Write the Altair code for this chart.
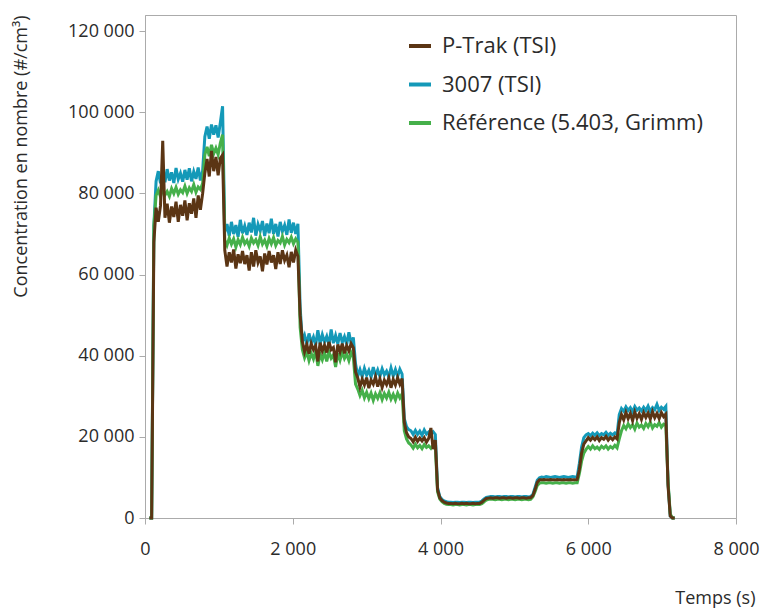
import altair as alt
import pandas as pd

# sampling times (s)
TIME_S = list(range(60, 7171, 30))

SERIES = ["P-Trak (TSI)", "3007 (TSI)", "Référence (5.403, Grimm)"]
COLORS = ["#5b3514", "#1499b8", "#45b04a"]

# values in thousands of particles / cm3
PTRAK = (
    [0, 0, 68]
    + [76.5, 73.0, 77.0, 93.0, 74.0, 77.5, 72.8, 76.8, 74.2, 78.0, 73.0, 77.2, 74.5, 78.3, 73.4, 77.6, 75.0, 78.8, 74.0, 79.5, 76.0, 80.0]
    + [85.0, 88.5, 84.2, 90.5, 85.5, 89.0, 84.5, 88.7, 89.5]
    + [66.0, 62.0, 65.5, 63.0, 66.2, 61.5, 65.0, 62.8, 65.8, 62.6,
       64.8, 61.0, 65.5, 62.0, 66.0, 63.0, 64.5, 60.8, 65.2, 62.5,
       65.8, 63.0, 64.8, 61.4, 65.5, 62.6, 66.0, 63.5, 64.8, 61.8,
       65.6, 63.0, 66.0, 64.5, 50.0]
    + [43.5, 41.0, 42.8, 40.5, 43.0, 41.5, 42.5, 38.6, 43.2, 41.2,
       42.6, 40.8, 43.4, 41.5, 42.0, 38.4, 42.8, 41.0, 43.0, 40.6,
       42.5, 41.2, 43.0, 42.0, 36.0]
    + [34.5, 32.3, 34.2, 32.8, 34.6, 32.0, 34.0, 33.0, 34.8, 32.4,
       34.3, 32.2, 34.0, 32.9, 34.5, 32.1, 34.2, 32.8, 34.6, 33.0,
       34.4, 23.5, 21.0, 20.0]
    + [19.6, 18.8, 19.9, 18.9, 19.7, 19.0, 19.8, 18.7, 19.6, 22.2, 17.0, 19.2]
    + [7.0, 5.0, 4.3, 3.9, 3.7, 3.6,
       3.6, 3.5, 3.6, 3.5, 3.5, 3.6, 3.5, 3.6, 3.5, 3.5, 3.6, 3.5, 3.6, 3.6]
    + [3.9, 4.4, 4.8, 4.9,
       5.0, 4.9, 5.0, 5.0, 4.9, 5.0, 5.0, 4.9, 5.0, 5.0, 4.9, 5.0, 5.0, 4.9, 5.0, 5.0, 4.9, 5.0, 5.0]
    + [5.5, 7.0, 8.8, 9.4,
       9.4, 9.5, 9.4, 9.4, 9.5, 9.4, 9.4, 9.5, 9.4, 9.4, 9.5, 9.4, 9.4, 9.5, 9.4, 9.4, 9.5]
    + [12.0, 16.0, 18.2, 19.0,
       19.8, 19.2, 19.9, 19.3, 20.0, 19.1, 19.8, 19.4, 20.1, 19.2, 19.9, 19.3, 20.0, 19.5]
    + [23.5,
       25.5, 24.2, 26.0, 24.5, 25.8, 24.0, 26.1, 24.6, 25.7, 24.3, 26.0, 24.8, 25.9, 24.4, 26.2, 24.7, 25.8, 24.5, 26.0, 25.0, 25.6]
    + [8.0, 0.5, 0, 0]
)

CPC3007 = (
    [0, 0, 72]
    + [83.0, 85.5, 82.5, 84.8, 82.8, 86.0, 83.2, 85.2, 82.6, 86.3, 83.5, 85.0, 82.9, 85.8, 83.4, 86.2, 83.0, 85.4, 83.6, 86.4, 83.2, 85.6]
    + [94.0, 96.5, 93.5, 97.0, 94.5, 96.8, 93.8, 97.5, 101.5]
    + [70.5, 72.5, 69.5, 73.0, 70.0, 72.2, 69.3, 73.5, 70.2, 72.0,
       69.8, 72.8, 70.4, 74.0, 69.6, 72.4, 70.8, 73.2, 69.5, 72.6,
       70.2, 73.8, 70.0, 72.5, 69.4, 73.0, 70.6, 72.2, 69.8, 73.6,
       70.3, 72.8, 70.0, 72.5, 52.0]
    + [43.5, 45.0, 42.8, 45.5, 43.2, 44.6, 42.6, 46.3, 43.0, 45.2,
       43.4, 44.8, 42.7, 46.5, 43.1, 45.0, 42.9, 45.6, 43.3, 44.7,
       42.8, 45.8, 43.0, 44.5, 38.0]
    + [35.0, 36.6, 34.8, 36.9, 35.2, 36.4, 34.7, 37.2, 35.1, 36.5,
       34.9, 36.8, 35.3, 36.2, 34.8, 37.0, 35.0, 36.6, 34.9, 36.7,
       35.5, 24.5, 22.5, 21.8]
    + [21.5, 20.6, 21.6, 20.6, 21.4, 20.4, 21.7, 20.7, 21.2, 20.8, 21.3, 20.6]
    + [7.5, 5.3, 4.6, 4.2, 4.0, 3.9,
       3.9, 3.8, 3.9, 3.9, 3.8, 3.9, 3.9, 3.8, 3.9, 3.9, 3.8, 3.9, 3.9, 3.9]
    + [4.2, 4.7, 5.1, 5.2,
       5.3, 5.3, 5.2, 5.3, 5.3, 5.2, 5.3, 5.3, 5.2, 5.3, 5.3, 5.2, 5.3, 5.3, 5.2, 5.3, 5.3, 5.2, 5.3]
    + [5.8, 7.5, 9.3, 9.9,
       10.1, 10.0, 10.2, 10.1, 10.0, 10.1, 10.2, 10.1, 10.0, 10.1, 10.2, 10.1, 10.0, 10.1, 10.2, 10.1, 10.1]
    + [13.5, 17.5, 19.8, 20.5,
       20.8, 20.3, 20.9, 20.4, 21.0, 20.3, 20.8, 20.5, 21.1, 20.4, 20.9, 20.5, 21.0, 20.6]
    + [25.5,
       27.0, 26.3, 27.4, 26.5, 27.2, 26.2, 27.5, 26.6, 27.1, 26.4, 27.3, 26.5, 27.6, 26.3, 27.2, 26.7, 28.0, 26.5, 27.3, 26.8, 27.5]
    + [8.5, 0.5, 0, 0]
)

REFERENCE = (
    [0, 0, 72]
    + [79.5, 80.8, 79.2, 81.0, 79.6, 80.5, 79.3, 81.2, 80.0, 81.5, 79.8, 80.9, 80.2, 81.8, 80.0, 81.4, 80.5, 82.2, 80.3, 81.6, 81.0, 82.5]
    + [89.5, 91.5, 89.2, 92.0, 89.8, 91.2, 89.6, 92.5, 94.5]
    + [68.5, 67.2, 69.0, 67.5, 68.8, 66.8, 68.6, 67.4, 69.2, 67.6,
       68.4, 67.0, 69.0, 67.8, 68.6, 67.2, 69.3, 67.5, 68.5, 67.0,
       68.9, 67.6, 69.1, 67.2, 68.4, 67.8, 69.4, 67.3, 68.7, 67.9,
       69.2, 67.6, 68.8, 68.0, 47.0]
    + [41.5, 39.5, 41.0, 38.8, 40.6, 39.2, 41.2, 37.5, 40.4, 39.0,
       40.8, 38.6, 41.0, 39.4, 40.2, 37.2, 40.6, 38.9, 41.0, 39.3,
       40.4, 38.8, 40.8, 39.6, 33.0]
    + [31.8, 30.2, 31.5, 29.6, 31.0, 29.4, 30.8, 29.0, 30.6, 29.5,
       30.9, 29.2, 30.7, 29.6, 31.0, 29.3, 30.5, 29.1, 30.8, 29.6,
       30.6, 21.5, 19.5, 18.5]
    + [18.0, 17.2, 18.2, 17.3, 17.9, 17.1, 18.1, 17.4, 17.8, 17.2, 18.0, 17.5]
    + [6.5, 4.7, 4.0, 3.6, 3.4, 3.3,
       3.3, 3.2, 3.3, 3.3, 3.2, 3.3, 3.3, 3.2, 3.3, 3.3, 3.2, 3.3, 3.3, 3.3]
    + [3.5, 4.0, 4.4, 4.6,
       4.6, 4.6, 4.5, 4.6, 4.6, 4.5, 4.6, 4.6, 4.5, 4.6, 4.6, 4.5, 4.6, 4.6, 4.5, 4.6, 4.6, 4.5, 4.6]
    + [5.2, 6.5, 8.0, 8.6,
       8.7, 8.7, 8.6, 8.7, 8.7, 8.6, 8.7, 8.7, 8.6, 8.7, 8.7, 8.6, 8.7, 8.7, 8.6, 8.7, 8.7]
    + [11.0, 14.0, 16.0, 16.9,
       17.6, 17.0, 17.8, 17.1, 17.5, 16.9, 17.7, 17.2, 17.8, 17.0, 17.6, 17.2, 17.9, 17.3]
    + [19.5,
       21.5, 22.8, 22.0, 23.2, 22.3, 23.0, 21.9, 23.4, 22.4, 22.9, 22.1, 23.3, 22.5, 23.6, 22.2, 23.0, 22.6, 23.5, 22.4, 23.1, 22.8]
    + [9.0, 1.0, 0, 0]
)

X_TICKS = [0, 2000, 4000, 6000, 8000]
Y_TICKS = [0, 20000, 40000, 60000, 80000, 100000, 120000]

n = len(TIME_S)
frames = []
for name, vals in zip(SERIES, [PTRAK, CPC3007, REFERENCE]):
    m = min(n, len(vals))
    frames.append(pd.DataFrame({
        "t": TIME_S[:m],
        "v": [x * 1000 for x in vals[:m]],
        "serie": name,
    }))
df = pd.concat(frames, ignore_index=True)

FONT = "Open Sans"
TXT = "#2b2b2b"
GRAY = "#ababab"
num_expr = "replace(format(datum.value, ','), regexp(',', 'g'), ' ')"

color = alt.Color(
    "serie:N",
    scale=alt.Scale(domain=SERIES, range=COLORS),
    legend=alt.Legend(
        title=None, orient="none", legendX=262, legendY=18,
        symbolType="stroke", symbolSize=484, symbolStrokeWidth=4,
        labelFontSize=22, labelFont=FONT, labelColor=TXT,
        labelOffset=9, rowPadding=14.5, padding=0, labelLimit=400,
    ),
)

x = alt.X(
    "t:Q",
    scale=alt.Scale(domain=[0, 8000], nice=False),
    axis=alt.Axis(
        values=X_TICKS, title="Temps (s)", labelExpr=num_expr,
        grid=False, tickSize=6, labelPadding=16, labelFlush=False,
        titleX=610, titleY=80, titleAlign="right", titleBaseline="middle",
    ),
)
y = alt.Y(
    "v:Q",
    scale=alt.Scale(domain=[0, 124000], nice=False),
    axis=alt.Axis(
        values=Y_TICKS, title="Concentration en nombre (#/cm³)", labelExpr=num_expr,
        grid=False, tickSize=6, labelPadding=5,
        titleX=-124, titleY=0, titleAlign="right", titleBaseline="middle", titleAngle=270,
    ),
)

def layer(name):
    return (
        alt.Chart(df)
        .transform_filter(alt.datum.serie == name)
        .mark_line(strokeWidth=3, interpolate="linear")
        .encode(x=x, y=y, color=color)
    )

chart = (
    alt.layer(layer(SERIES[1]), layer(SERIES[2]), layer(SERIES[0]))
    .properties(
        width=591, height=503,
        autosize=alt.AutoSizeParams(type="none"),
        padding={"left": 145, "top": 15, "right": 35, "bottom": 92},
        background="white",
    )
    .configure_view(stroke=GRAY, strokeWidth=1)
    .configure_axis(
        domainColor=GRAY, tickColor=GRAY, labelFont=FONT, titleFont=FONT,
        labelFontSize=18, titleFontSize=18, labelColor=TXT, titleColor=TXT,
        titleFontWeight="normal",
    )
)

chart.save("out.html", embed_options={"renderer": "svg", "actions": False})
